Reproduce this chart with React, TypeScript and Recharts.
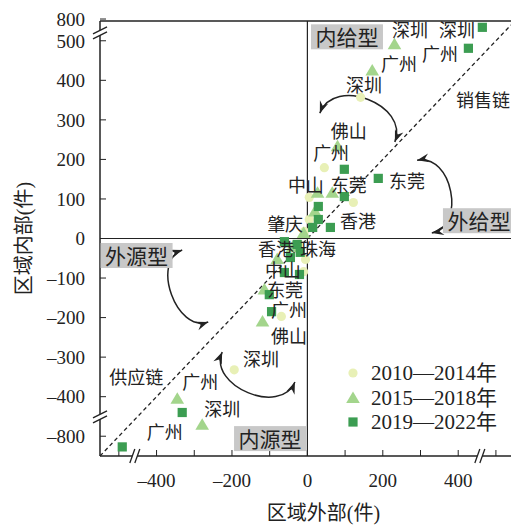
import React from "react";
import {
  ScatterChart,
  Scatter,
  XAxis,
  YAxis,
  ReferenceLine,
  ReferenceDot,
  Label,
} from "recharts";

// values are positions on the broken axes (500..550 stands for 500..800 etc.)
const points2010 = [
  { x: 141, y: 357 },
  { x: 45, y: 179 },
  { x: 5, y: 104 },
  { x: 122, y: 91 },
  { x: 5, y: 48 },
  { x: -8, y: 18 },
  { x: -22, y: -14 },
  { x: -5, y: -53 },
  { x: -10, y: -84 },
  { x: -69, y: -197 },
  { x: -194, y: -332 },
];

const points2015 = [
  { x: 231, y: 491 },
  { x: 172, y: 425 },
  { x: 80, y: 233 },
  { x: 27, y: 116 },
  { x: 66, y: 116 },
  { x: 20, y: 68 },
  { x: -10, y: 14 },
  { x: -40, y: -22 },
  { x: -80, y: -52 },
  { x: -114, y: -129 },
  { x: -119, y: -210 },
  { x: -345, y: -405 },
  { x: -279, y: -471 },
];

const points2019 = [
  { x: 464, y: 534 },
  { x: 427, y: 481 },
  { x: 98, y: 175 },
  { x: 188, y: 152 },
  { x: 98, y: 106 },
  { x: 29, y: 81 },
  { x: 29, y: 48 },
  { x: 61, y: 28 },
  { x: 14, y: 28 },
  { x: -27, y: -15 },
  { x: -61, y: -8 },
  { x: -19, y: -35 },
  { x: -45, y: -48 },
  { x: -61, y: -86 },
  { x: -21, y: -91 },
  { x: -101, y: -142 },
  { x: -95, y: -185 },
  { x: -332, y: -440 },
  { x: -491, y: -527 },
];

const seriesNames = ["2010—2014年", "2015—2018年", "2019—2022年"];
const seriesColors = ["#e8f0b6", "#a3d58c", "#3c9d52"];

const xTicks = [-500, -400, -300, -200, -100, 0, 100, 200, 300, 400, 500];
const xTickLabels = ["", "–400", "", "–200", "", "0", "", "200", "", "400", ""];
const yTicks = [-500, -400, -300, -200, -100, 0, 100, 200, 300, 400, 500, 555];
const yTickLabels = ["–800", "–400", "–300", "–200", "–100", "0", "100", "200", "300", "400", "500", "800"];

const cityLabels = [
  { text: "深圳", x: 397, y: 525 },
  { text: "深圳", x: 272, y: 525 },
  { text: "广州", x: 352, y: 464 },
  { text: "广州", x: 243, y: 439 },
  { text: "深圳", x: 150, y: 385 },
  { text: "销售链", x: 466, y: 348 },
  { text: "佛山", x: 110, y: 269 },
  { text: "广州", x: 63, y: 214 },
  { text: "中山", x: -4, y: 133 },
  { text: "东莞", x: 110, y: 133 },
  { text: "东莞", x: 264, y: 143 },
  { text: "肇庆", x: -59, y: 34 },
  { text: "香港", x: 134, y: 42 },
  { text: "香港", x: -83, y: -29 },
  { text: "珠海", x: 28, y: -29 },
  { text: "中山", x: -65, y: -83 },
  { text: "东莞", x: -59, y: -132 },
  { text: "广州", x: -49, y: -184 },
  { text: "佛山", x: -49, y: -248 },
  { text: "深圳", x: -123, y: -307 },
  { text: "供应链", x: -454, y: -353 },
  { text: "广州", x: -284, y: -365 },
  { text: "深圳", x: -226, y: -433 },
  { text: "广州", x: -378, y: -491 },
];

const quadrantLabels = [
  { text: "内给型", x: 105, y: 510 },
  { text: "外给型", x: 455, y: 45 },
  { text: "外源型", x: -453, y: -43 },
  { text: "内源型", x: -99, y: -506 },
];

const arrows = [
  { from: { x: 232, y: 244 }, to: { x: 33, y: 317 }, bend: 0.5 },
  { from: { x: 291, y: 198 }, to: { x: 330, y: 14 }, bend: -0.48 },
  { from: { x: -332, y: -29 }, to: { x: -263, y: -211 }, bend: 0.44 },
  { from: { x: -226, y: -287 }, to: { x: -33, y: -363 }, bend: 0.47 },
];

const yBreaks = [520, -451];
const xBreaks = [-455, 460];

const serif = '"Liberation Serif", "Noto Sans CJK SC", serif';
const ink = "#222";

const CircleMark = (p: any) => <circle cx={p.cx} cy={p.cy} r={4.6} fill={seriesColors[0]} />;
const TriangleMark = (p: any) => (
  <polygon
    points={`${p.cx},${p.cy - 6.5} ${p.cx - 6.8},${p.cy + 5} ${p.cx + 6.8},${p.cy + 5}`}
    fill={seriesColors[1]}
  />
);
const SquareMark = (p: any) => (
  <rect x={p.cx - 4.6} y={p.cy - 4.6} width={9.2} height={9.2} fill={seriesColors[2]} />
);

const head = (tx: number, ty: number, fx: number, fy: number) => {
  const dx = tx - fx;
  const dy = ty - fy;
  const l = Math.hypot(dx, dy) || 1;
  const ux = dx / l;
  const uy = dy / l;
  const bx = tx - ux * 12;
  const by = ty - uy * 12;
  return (
    <polygon
      points={`${tx},${ty} ${bx - uy * 4.5},${by + ux * 4.5} ${tx - ux * 8},${ty - uy * 8} ${bx + uy * 4.5},${by - ux * 4.5}`}
      fill={ink}
    />
  );
};

const arrowShape = (bend: number) => (p: any) => {
  const { x1, y1, x2, y2 } = p;
  const dx = x2 - x1;
  const dy = y2 - y1;
  const len = Math.hypot(dx, dy);
  const nx = (-dy / len) * bend * len;
  const ny = (dx / len) * bend * len;
  const c1x = x1 + nx;
  const c1y = y1 + ny;
  const c2x = x2 + nx;
  const c2y = y2 + ny;
  return (
    <g>
      <path
        d={`M${x1},${y1} C${c1x},${c1y} ${c2x},${c2y} ${x2},${y2}`}
        fill="none"
        stroke={ink}
        strokeWidth={1.5}
      />
      {head(x1, y1, c1x, c1y)}
      {head(x2, y2, c2x, c2y)}
    </g>
  );
};

const textShape = (text: string) => (p: any) => (
  <text
    x={p.cx}
    y={p.cy}
    textAnchor="middle"
    dominantBaseline="central"
    fontSize={18}
    fontFamily={serif}
    fill={ink}
  >
    {text}
  </text>
);

const boxShape = (text: string) => (p: any) => (
  <g>
    <rect x={p.cx - 36} y={p.cy - 12.5} width={72} height={25} fill="#c8c8c8" />
    <text
      x={p.cx}
      y={p.cy + 1}
      textAnchor="middle"
      dominantBaseline="central"
      fontSize={21}
      fontFamily={serif}
      fill={ink}
    >
      {text}
    </text>
  </g>
);

const yBreakShape = (p: any) => (
  <g stroke={ink} strokeWidth={1.3}>
    <polygon points={`${p.cx - 7},${p.cy + 1} ${p.cx + 7},${p.cy - 6} ${p.cx + 7},${p.cy - 1} ${p.cx - 7},${p.cy + 6}`} fill="#fff" stroke="none" />
    <line x1={p.cx - 7} y1={p.cy + 1} x2={p.cx + 7} y2={p.cy - 6} />
    <line x1={p.cx - 7} y1={p.cy + 6} x2={p.cx + 7} y2={p.cy - 1} />
  </g>
);

const xBreakShape = (p: any) => (
  <g stroke={ink} strokeWidth={1.3}>
    <polygon points={`${p.cx - 6},${p.cy + 7} ${p.cx - 1},${p.cy - 7} ${p.cx + 4},${p.cy - 7} ${p.cx - 1},${p.cy + 7}`} fill="#fff" stroke="none" />
    <line x1={p.cx - 6} y1={p.cy + 7} x2={p.cx - 1} y2={p.cy - 7} />
    <line x1={p.cx - 1} y1={p.cy + 7} x2={p.cx + 4} y2={p.cy - 7} />
  </g>
);

const legendMarks = [
  <circle cx={10} cy={10} r={4.6} fill={seriesColors[0]} />,
  <polygon points="10,3.5 3.2,15 16.8,15" fill={seriesColors[1]} />,
  <rect x={5.4} y={5.4} width={9.2} height={9.2} fill={seriesColors[2]} />,
];

export default function App() {
  return (
    <div
      style={{
        position: "absolute",
        left: 0,
        top: 0,
        width: 511,
        height: 525,
        overflow: "hidden",
        background: "#fff",
      }}
    >
      <ScatterChart width={511} height={525} margin={{ top: 21, right: 0, bottom: 29, left: 0 }}>
        <XAxis
          type="number"
          dataKey="x"
          domain={[-550, 540]}
          ticks={xTicks}
          interval={0}
          allowDataOverflow
          tickFormatter={(v: number) => xTickLabels[xTicks.indexOf(v)]}
          tick={{ fill: ink, fontSize: 19, fontFamily: serif }}
          axisLine={{ stroke: ink, strokeWidth: 1.5 }}
          tickLine={{ stroke: ink }}
          tickSize={-6}
          tickMargin={24}
          height={40}
        >
          <Label
            value="区域外部(件)"
            position="bottom"
            offset={10}
            dx={18}
            style={{ fill: ink, fontSize: 20, fontFamily: serif }}
          />
        </XAxis>
        <YAxis
          type="number"
          dataKey="y"
          domain={[-550, 550]}
          ticks={yTicks}
          interval={0}
          allowDataOverflow
          tickFormatter={(v: number) => yTickLabels[yTicks.indexOf(v)]}
          tick={{ fill: ink, fontSize: 19, fontFamily: serif }}
          axisLine={{ stroke: ink, strokeWidth: 1.5 }}
          tickLine={{ stroke: ink }}
          tickSize={-6}
          tickMargin={21}
          width={100}
        >
          <Label
            value="区域内部(件)"
            angle={-90}
            position="insideLeft"
            offset={24}
            style={{ fill: ink, fontSize: 20, fontFamily: serif, textAnchor: "middle" }}
          />
        </YAxis>
        <ReferenceLine y={550} stroke={ink} strokeWidth={1.5} ifOverflow="visible" />
        <ReferenceLine x={0} stroke={ink} strokeWidth={1.2} />
        <ReferenceLine y={0} stroke={ink} strokeWidth={1.2} />
        <ReferenceLine
          segment={[{ x: -550, y: -550 }, { x: 540, y: 540 }]}
          stroke={ink}
          strokeWidth={1.3}
          strokeDasharray="4 3"
        />
        <Scatter data={points2010} shape={CircleMark} isAnimationActive={false} />
        <Scatter data={points2015} shape={TriangleMark} isAnimationActive={false} />
        <Scatter data={points2019} shape={SquareMark} isAnimationActive={false} />
        {arrows.map((a, i) => (
          <ReferenceLine
            key={`a${i}`}
            segment={[a.from, a.to]}
            shape={arrowShape(a.bend)}
            ifOverflow="visible"
          />
        ))}
        {cityLabels.map((c, i) => (
          <ReferenceDot key={`c${i}`} x={c.x} y={c.y} r={0} shape={textShape(c.text)} ifOverflow="visible" />
        ))}
        {quadrantLabels.map((q, i) => (
          <ReferenceDot key={`q${i}`} x={q.x} y={q.y} r={0} shape={boxShape(q.text)} ifOverflow="visible" />
        ))}
        {yBreaks.map((b, i) => (
          <ReferenceDot key={`yb${i}`} x={-550} y={b} r={0} shape={yBreakShape} ifOverflow="visible" />
        ))}
        {xBreaks.map((b, i) => (
          <ReferenceDot key={`xb${i}`} x={b} y={-550} r={0} shape={xBreakShape} ifOverflow="visible" />
        ))}
      </ScatterChart>
      <div style={{ position: "absolute", left: 343, top: 361, fontFamily: serif, fontSize: 21, color: ink }}>
        {seriesNames.map((name, i) => (
          <div key={name} style={{ display: "flex", alignItems: "center", height: 24.5 }}>
            <svg width={20} height={20} style={{ marginRight: 8 }}>
              {legendMarks[i]}
            </svg>
            <span style={{ lineHeight: "24px" }}>{name}</span>
          </div>
        ))}
      </div>
    </div>
  );
}
